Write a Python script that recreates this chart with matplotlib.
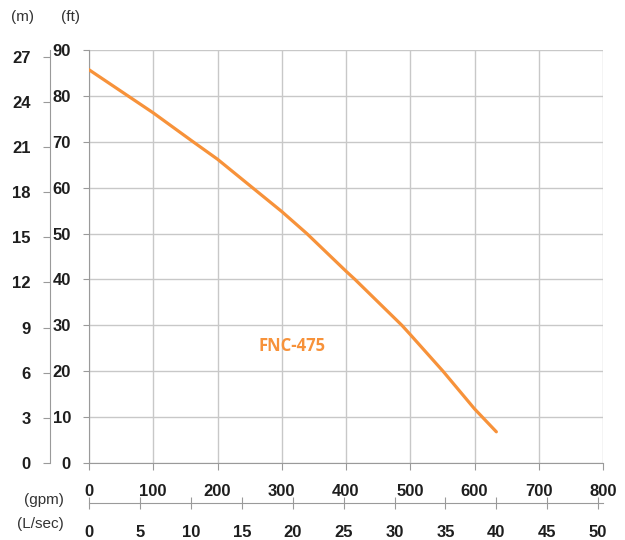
import matplotlib.pyplot as plt

# pump curve FNC-475
flow_gpm = [0, 100, 162, 200, 300, 339, 400, 414, 487, 500, 551, 600, 634]
head_ft = [85.7, 76.3, 70, 66.2, 54.8, 50, 41.8, 40, 30, 28.0, 20, 11.8, 6.8]

gpm_ticks = [0, 100, 200, 300, 400, 500, 600, 700, 800]
ft_ticks = [0, 10, 20, 30, 40, 50, 60, 70, 80, 90]
m_ticks = [0, 3, 6, 9, 12, 15, 18, 21, 24, 27]
lsec_ticks = [0, 5, 10, 15, 20, 25, 30, 35, 40, 45, 50]

plt.rcParams['font.family'] = ['Liberation Sans', 'DejaVu Sans']
grid_col = '#c8c8c8'
axis_col = '#9a9a9a'
txt_col = '#1e1e1e'

W, H = 625, 540
fig = plt.figure(figsize=(W / 100, H / 100), dpi=100)
ax = fig.add_axes([89 / W, 77 / H, 514 / W, 413 / H])

ax.plot(flow_gpm, head_ft, color='#f7923a', lw=2.3, solid_capstyle='round',
        solid_joinstyle='round', zorder=3)
ax.text(316, 25.5, 'FNC-475', color='#f7923a', fontsize=12, fontweight='bold',
        family=['Open Sans', 'DejaVu Sans'], ha='center', va='center')

ax.set_xlim(0, 800)
ax.set_ylim(0, 90)
ax.set_xticks(gpm_ticks)
ax.set_yticks(ft_ticks)
ax.grid(True, color=grid_col, lw=1)
for s in ['top', 'right']:
    ax.spines[s].set_visible(False)
for s in ['left', 'bottom']:
    ax.spines[s].set_color(axis_col)
ax.tick_params(axis='x', length=5, color=axis_col, pad=10, labelsize=12, labelcolor=txt_col)
ax.tick_params(axis='y', length=4, color=axis_col, pad=9, labelsize=12, labelcolor=txt_col)
for lab in ax.get_xticklabels() + ax.get_yticklabels():
    lab.set_fontweight('bold')

# metres axis on the far left
m_ax = ax.secondary_yaxis((50 - 89) / 514, functions=(lambda f: f * 0.3048, lambda m: m / 0.3048))
m_ax.set_yticks(m_ticks)
m_ax.spines['left'].set_color(axis_col)
m_ax.tick_params(length=5, color=axis_col, pad=9, labelsize=12, labelcolor=txt_col)
for lab in m_ax.get_yticklabels():
    lab.set_fontweight('bold')

# L/sec axis below
l_ax = ax.secondary_xaxis((463 - 503) / 413, functions=(lambda g: g * 0.0630902, lambda l: l / 0.0630902))
l_ax.set_xticks(lsec_ticks)
l_ax.spines['bottom'].set_color(axis_col)
l_ax.tick_params(direction='inout', length=9, color=axis_col, pad=11, labelsize=12, labelcolor=txt_col)
for lab in l_ax.get_xticklabels():
    lab.set_fontweight('bold')

fig.text(23 / W, 1 - 17 / H, '(m)', ha='center', va='center', fontsize=11, color='#333333')
fig.text(71 / W, 1 - 17 / H, '(ft)', ha='center', va='center', fontsize=11, color='#333333')
fig.text(64 / W, 1 - 500 / H, '(gpm)', ha='right', va='center', fontsize=11, color='#333333')
fig.text(64 / W, 1 - 524 / H, '(L/sec)', ha='right', va='center', fontsize=11, color='#333333')

fig.savefig('out.png', dpi=100)
